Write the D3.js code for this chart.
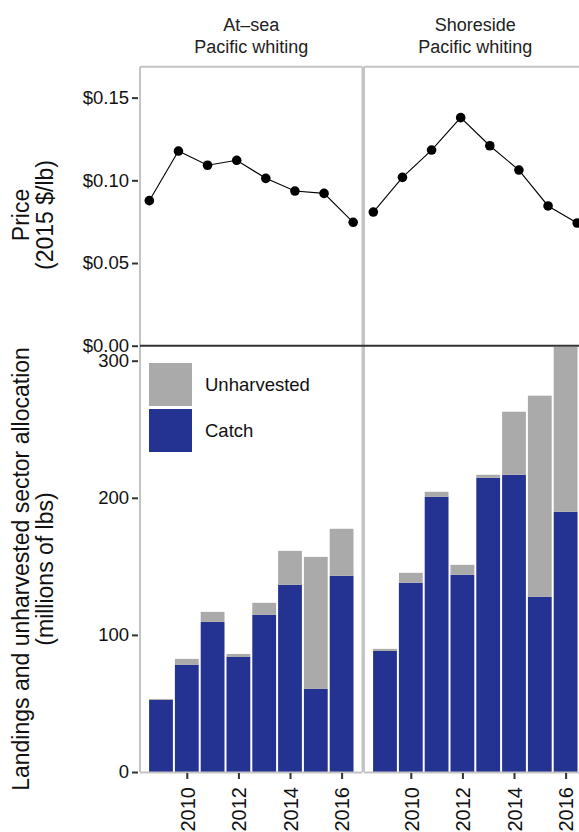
<!DOCTYPE html>
<html>
<head>
<meta charset="utf-8">
<script src="https://cdn.jsdelivr.net/npm/d3@7"></script>
<style>
  html, body { margin: 0; padding: 0; background: #fff; overflow: hidden; }
  svg { display: block; font-family: "Liberation Sans", Arial, sans-serif; }
</style>
</head>
<body>
<svg id="chart" width="579" height="832"></svg>
<script>
// ---------------- data ----------------
const years = [2009, 2010, 2011, 2012, 2013, 2014, 2015, 2016];
const sectors = ["At\u2013sea\nPacific whiting", "Shoreside\nPacific whiting"];
const priceAtSea      = [0.0877, 0.1177, 0.1091, 0.1121, 0.1012, 0.0935, 0.0921, 0.0746];
const priceShoreside  = [0.0808, 0.1018, 0.1183, 0.1379, 0.1209, 0.1062, 0.0845, 0.0742];
const catchAtSea      = [52.6, 78.1, 109.5, 83.9, 114.6, 136.5, 60.6, 143.1];
const unharvAtSea     = [0.7, 4.4, 7.3, 2.2, 8.8, 24.8, 96.3, 34.3];
const catchShoreside  = [88.3, 138.0, 200.7, 143.8, 214.6, 216.8, 127.7, 189.8];
const unharvShoreside = [1.5, 7.3, 3.7, 7.3, 2.2, 46.0, 146.8, 122.2];
const priceTicks = [0, 0.05, 0.10, 0.15];
const lbsTicks = [0, 100, 200, 300];
const yearTicks = [2010, 2012, 2014, 2016];
const legendKeys = ["Unharvested", "Catch"];
const colors = { Unharvested: "#AAAAAA", Catch: "#243391" };

const prices = [priceAtSea, priceShoreside];
const catches = [catchAtSea, catchShoreside];
const unharv = [unharvAtSea, unharvShoreside];

// ---------------- layout ----------------
const svg = d3.select("#chart");
const panelsX = [[140, 362.5], [364, 586.5]];
const topY = [66.7, 345.7];
const botY = [347, 772];
const border = "#C4C4C4";
const tickCol = "#333333";
const textCol = "#111111";

const yPrice = d3.scaleLinear().domain([0, 0.1687]).range([topY[1], topY[0]]);
const yLbs = d3.scaleLinear().domain([0, 310]).range([botY[1], botY[0]]);

const defs = svg.append("defs");

panelsX.forEach((px, i) => {
  const xPt = d3.scaleLinear().domain([2008.68, 2016.32]).range(px);
  const xBar = d3.scaleLinear().domain([2008.186, 2016.81]).range(px);
  const step = xBar(2010) - xBar(2009);

  defs.append("clipPath").attr("id", "clipB" + i)
    .append("rect").attr("x", px[0]).attr("y", botY[0]).attr("width", px[1] - px[0]).attr("height", botY[1] - botY[0]);
  defs.append("clipPath").attr("id", "clipT" + i)
    .append("rect").attr("x", px[0]).attr("y", topY[0]).attr("width", px[1] - px[0]).attr("height", topY[1] - topY[0]);

  // strip labels
  const lines = sectors[i].split("\n");
  const strip = svg.append("text").attr("text-anchor", "middle")
    .attr("font-size", 18).attr("fill", "#222");
  lines.forEach((l, k) => strip.append("tspan")
    .attr("x", (px[0] + px[1]) / 2).attr("y", 31 + k * 21.5).text(l));

  // top panel: line + points
  const gT = svg.append("g").attr("clip-path", `url(#clipT${i})`);
  const pts = years.map((y, k) => ({ year: y, v: prices[i][k] }));
  gT.append("path").datum(pts)
    .attr("fill", "none").attr("stroke", "#000").attr("stroke-width", 1.1)
    .attr("d", d3.line().x(d => xPt(d.year)).y(d => yPrice(d.v)));
  gT.selectAll("circle").data(pts).join("circle")
    .attr("cx", d => xPt(d.year)).attr("cy", d => yPrice(d.v)).attr("r", 4.8).attr("fill", "#000");

  // bottom panel: stacked bars
  const gB = svg.append("g").attr("clip-path", `url(#clipB${i})`);
  const rows = years.map((y, k) => ({ year: y, Catch: catches[i][k], Unharvested: unharv[i][k] }));
  const stack = d3.stack().keys(["Catch", "Unharvested"])(rows);
  stack.forEach(layer => {
    gB.selectAll(null).data(layer).join("rect")
      .attr("x", d => xBar(d.data.year) - (step - 2) / 2)
      .attr("width", step - 2)
      .attr("y", d => yLbs(d[1]))
      .attr("height", d => yLbs(d[0]) - yLbs(d[1]))
      .attr("fill", colors[layer.key]);
  });

  // panel borders
  svg.append("line").attr("x1", px[0]).attr("x2", px[0]).attr("y1", topY[0]).attr("y2", botY[1])
    .attr("stroke", border).attr("stroke-width", 2);
  svg.append("line").attr("x1", px[1]).attr("x2", px[1]).attr("y1", topY[0]).attr("y2", botY[1])
    .attr("stroke", border).attr("stroke-width", 2);
  svg.append("line").attr("x1", px[0]).attr("x2", px[1]).attr("y1", topY[0]).attr("y2", topY[0])
    .attr("stroke", border).attr("stroke-width", 2);
  svg.append("line").attr("x1", px[0]).attr("x2", px[1]).attr("y1", botY[1] + 0.5).attr("y2", botY[1] + 0.5)
    .attr("stroke", border).attr("stroke-width", 2);

  // x axis (years)
  const xAxis = svg.append("g").attr("transform", `translate(0,${botY[1] + 1})`)
    .call(d3.axisBottom(xBar).tickValues(yearTicks).tickFormat(d3.format("d")).tickSize(6).tickPadding(0));
  xAxis.select(".domain").remove();
  xAxis.selectAll(".tick line").attr("stroke", tickCol).attr("stroke-width", 2);
  xAxis.selectAll(".tick text")
    .attr("font-size", 20).attr("fill", textCol).attr("font-family", "Liberation Sans, Arial, sans-serif")
    .attr("transform", "rotate(-90)")
    .attr("text-anchor", "end").attr("x", -14).attr("y", 0).attr("dy", "0.36em");
});

// dark divider between top and bottom panels
svg.append("line").attr("x1", 140).attr("x2", 590).attr("y1", 345.7).attr("y2", 345.7)
  .attr("stroke", "#333").attr("stroke-width", 2);

// y axes
function styleY(g) {
  g.select(".domain").remove();
  g.selectAll(".tick line").attr("stroke", tickCol).attr("stroke-width", 2);
  g.selectAll(".tick text").attr("font-size", 18.5).attr("fill", textCol)
    .attr("font-family", "Liberation Sans, Arial, sans-serif");
}
svg.append("g").attr("transform", "translate(138,0)")
  .call(d3.axisLeft(yPrice).tickValues(priceTicks).tickFormat(d => "$" + d3.format(".2f")(d)).tickSize(6).tickPadding(3))
  .call(styleY);
svg.append("g").attr("transform", "translate(138,0)")
  .call(d3.axisLeft(yLbs).tickValues(lbsTicks).tickFormat(d3.format("d")).tickSize(6).tickPadding(3))
  .call(styleY);

// axis titles
function yTitle(lines, cy) {
  const t = svg.append("text").attr("text-anchor", "middle").attr("font-size", 23).attr("fill", textCol)
    .attr("transform", `translate(0,${cy}) rotate(-90)`);
  lines.forEach((l, k) => t.append("tspan").attr("x", 0).attr("y", 29 + k * 23.5).text(l));
}
yTitle(["Price", "(2015 $/lb)"], 215);
yTitle(["Landings and unharvested sector allocation", "(millions of lbs)"], 569);

// legend
const leg = svg.append("g").attr("transform", "translate(149,363)");
legendKeys.forEach((k, i) => {
  leg.append("rect").attr("x", 0).attr("y", i * 46).attr("width", 43).attr("height", 43).attr("fill", colors[k]);
  leg.append("text").attr("x", 56).attr("y", i * 46 + 21.5).attr("dy", "0.35em")
    .attr("font-size", 18.5).attr("fill", textCol).text(k);
});
</script>
</body>
</html>
